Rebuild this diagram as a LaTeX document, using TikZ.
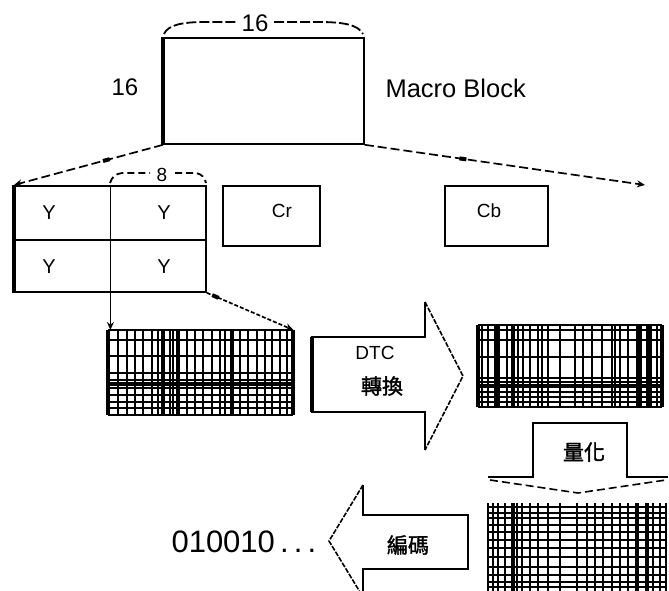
\documentclass[tikz,border=0pt]{standalone}
\usepackage{fontspec}
\setmainfont{Liberation Sans}
\newfontfamily\cjk[FakeBold=1.6]{Noto Sans CJK TC}
\usetikzlibrary{arrows.meta}
\begin{document}
\begin{tikzpicture}[x=1pt,y=-1pt,
  box/.style={draw, line width=1.8pt, inner sep=0pt, anchor=north west},
  area/.style={inner sep=0pt, anchor=north west},
  conn/.style={line width=1.7pt, dash pattern=on 9pt off 4pt},
  tipped/.style={-{Stealth[length=8pt,width=7pt]}},
  marker/.style={fill, inner sep=0pt, minimum width=7pt, minimum height=4pt, sloped},
  gl/.style={line width=2pt},
  glt/.style={line width=3.6pt},
  big/.style={font=\fontsize{24}{26}\selectfont},
  mid/.style={font=\fontsize{20}{22}\selectfont},
  small/.style={font=\fontsize{19}{21}\selectfont},
  han/.style={font=\cjk\fontsize{21}{23}\selectfont},
  headedge/.style={line width=1.6pt, dash pattern=on 5pt off 1.5pt},
  bodyedge/.style={line width=1.8pt},
  brace/.style={line width=1.8pt, dash pattern=on 10pt off 3pt}
]
\useasboundingbox (0,0) rectangle (669,591);
\clip (0,0) rectangle (669,591);

% ---- Macro block ----
\node[box, minimum width=200pt, minimum height=106pt] (mb) at (163,37) {};
\draw[line width=3.5pt] (mb.north west) -- (mb.south west);
\node[big] (l16top) at (255,23) {16};
\node[big] (l16left) at (125,87) {16};
\node[big, font=\fontsize{25.5}{27}\selectfont, anchor=west] (mblabel) at (382,88) {Macro Block};
\draw[brace] (164,34) .. controls (168,25) and (182,22) .. (205,22) -- (236,22);
\draw[brace] (274,22) -- (318,22) .. controls (345,22) and (358,25) .. (363,34);

% ---- Y blocks ----
\node[box, minimum width=191pt, minimum height=106pt] (yg) at (14,185) {};
\draw[line width=3.5pt] (yg.north west) -- (yg.south west);
\draw[line width=1.8pt] (14,240) -- (205,240);
\node[mid] (y1) at (49,213) {Y};
\node[mid] (y2) at (164,213) {Y};
\node[mid] (y3) at (49,267) {Y};
\node[mid] (y4) at (164,267) {Y};
\node[small] (l8) at (162,175) {8};
\draw[brace, dash pattern=on 7pt off 4pt] (110,183) .. controls (112,177) and (115,174) .. (122,173) -- (150,173);
\draw[brace, dash pattern=on 7pt off 4pt] (175,173) -- (196,173) .. controls (202,174) and (205,178) .. (206,183);

% ---- Cr, Cb ----
\node[box, minimum width=97pt, minimum height=60pt] (cr) at (222,185) {};
\node[small] (crl) at (282,211) {Cr};
\node[box, minimum width=103pt, minimum height=60pt] (cb) at (444,185) {};
\node[small] (cbl) at (489,211) {Cb};

% ---- connectors from macro block ----
\coordinate (rend) at (645,185);
\draw[conn, tipped] (mb.south west) -- node[marker, pos=0.38] {} (yg.north west);
\draw[conn, tipped] (mb.south east) -- node[marker, pos=0.35] {} (rend);

% ---- grid 1 ----
\node[area, minimum width=185pt, minimum height=85pt] (g1) at (108,330) {};
\foreach \x in {118,127,135,143,152,158,170,173,187,195,203,212,220,225,240,248,257,265,272,280,287}
  \draw[gl] (\x,330) -- (\x,415);
\foreach \x in {108,163,178,232,293}
  \draw[glt] (\x,330) -- (\x,415);
\foreach \y in {330,340,356,373,380,388,395,402,408,415}
  \draw[gl] (108,\y) -- (293,\y);
\draw[glt] (108,384) -- (293,384);

\draw[line width=1.8pt] (yg.north) -- (yg.south);
\draw[line width=1.8pt, tipped] (yg.south) -- (yg.south |- g1.north);
\draw[conn, dash pattern=on 4pt off 2pt, tipped] (yg.south east) -- node[marker, pos=0.1] {} (g1.north east);

% ---- DTC arrow ----
\draw[bodyedge] (425,302) -- (425,337) -- (312,337) -- (312,412) -- (425,412) -- (425,450);
\draw[line width=3.5pt] (312,337) -- (312,412);
\draw[headedge] (425,302) -- (463,376) -- (425,450);
\node[small] (dtc) at (375,353) {DTC};
\node[han] (zh) at (382,386) {轉換};

% ---- grid 2 ----
\node[area, minimum width=184pt, minimum height=82pt] (g2) at (478,325) {};
\foreach \x in {482,488,495,507,518,523,530,538,542,548,560,575,583,592,602,612,615,620,628,637,647,657}
  \draw[gl] (\x,325) -- (\x,407);
\foreach \x in {478,498,513,640,650,662}
  \draw[glt] (\x,325) -- (\x,407);
\foreach \y in {325,330,340,357,378,382,392,397,402,407}
  \draw[gl] (478,\y) -- (662,\y);
\draw[glt] (478,386) -- (662,386);

% ---- quantisation arrow ----
\draw[line width=2.8pt] (488,477) -- (533,477) -- (533,423) -- (627,423) -- (627,477) -- (668,477);
\draw[headedge, dash pattern=on 8pt off 4pt] (490,480) -- (578,493) -- (666,480);
\node[han] (qz) at (584,452) {量化};

% ---- grid 3 ----
\node[area, minimum width=179pt, minimum height=84pt] (g3) at (488,507) {};
\foreach \x in {488,493,498,505,517,522,530,538,548,560,577,587,595,603,612,620,628,653,660,666}
  \draw[gl] (\x,503) -- (\x,591);
\foreach \x in {513,637,647}
  \draw[glt] (\x,503) -- (\x,591);
\foreach \y in {507,513,518,525,532,540,548,557,567,575,582,587}
  \draw[gl] (488,\y) -- (667,\y);

% ---- coding arrow ----
\draw[bodyedge] (363,485) -- (363,515) -- (468,515) -- (468,569) -- (363,569) -- (363,597);
\draw[headedge] (363,485) -- (329,541) -- (363,597);
\node[han] (enc) at (408,545) {編碼};
\node[font=\fontsize{31}{33}\selectfont, anchor=west] (bits) at (168,542) {010010\,.\,.\,.};
\end{tikzpicture}
\end{document}
